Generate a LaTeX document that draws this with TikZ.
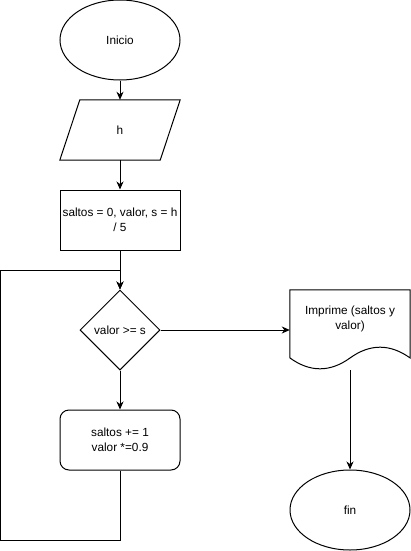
\documentclass[tikz,border=0pt]{standalone}
\usepackage{fontspec}
\setmainfont{Liberation Sans}
\usetikzlibrary{arrows.meta,shapes.geometric,calc}
\begin{document}
\begin{tikzpicture}[x=1pt,y=-1pt,
  every node/.style={font=\fontsize{11.8}{15}\selectfont, align=center},
  line/.style={draw=black, line width=1pt},
  arr/.style={line, -{Stealth[length=8pt,width=7pt,inset=2.5pt]}},
  term/.style={ellipse, line, minimum width=120pt, minimum height=80pt, inner sep=0pt},
  proc/.style={rectangle, line, minimum width=120pt, minimum height=60pt, inner sep=0pt},
  rproc/.style={proc, rounded corners=9pt},
  decide/.style={diamond, line, minimum width=80pt, minimum height=80pt, inner sep=0pt},
  frame/.style={rectangle, inner sep=0pt}
]
\useasboundingbox (0,0) rectangle (411,551);

% start / end terminals
\node[term] (ini) at (120,40) {Inicio};
\node[term] (fin) at (350,510) {fin};

% input parallelogram
\node[frame, minimum width=120pt, minimum height=60pt] (hin) at (120,130) {h};
\draw[line] ($(hin.north west)+(20,0)$) -- (hin.north east)
  -- ($(hin.south east)+(-20,0)$) -- (hin.south west) -- cycle;

% initialisation
\node[proc] (init) at (120,220) {saltos = 0, valor, s = h\\/ 5};

% loop condition
\node[decide] (cond) at (120,330) {valor >= s};

% loop body
\node[rproc] (body) at (120,440) {saltos += 1\\valor *=0.9};

% output document
\node[frame, minimum width=120pt, minimum height=80pt] (doc) at (350,330) {};
\draw[line] (doc.south west |- 0,358) -- (doc.north west) -- (doc.north east)
  -- (doc.north east |- 0,358)
  .. controls (390,343.6) and (370,343.6) .. (350,358)
  .. controls (330,372.4) and (310,372.4) .. (290,358);
\node at (350,319) {Imprime (saltos y\\valor)};

% connectors
\coordinate (bl) at (0.5,540);
\coordinate (tl) at (0.5,270);
\coordinate (join) at (120,270);
\draw[arr] (ini.south) -- (hin.north);
\draw[arr] (hin.south) -- (init.north);
\draw[arr] (init.south) -- (cond.north);
\draw[arr] (cond.south) -- (body.north);
\draw[arr] (body.south) -- (body.south |- bl) -- (bl) -- (tl) -- (join) -- (cond.north);
\draw[arr] (cond.east) -- (doc.west);
\draw[arr] (doc.south) -- (fin.north);
\end{tikzpicture}
\end{document}
